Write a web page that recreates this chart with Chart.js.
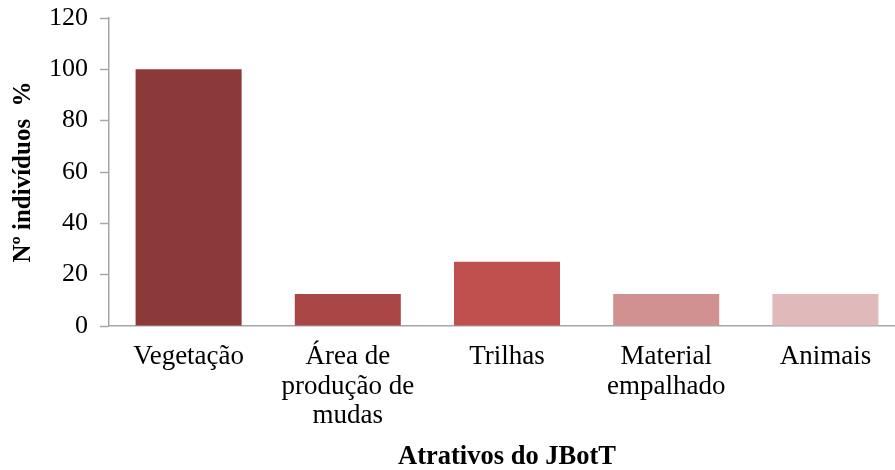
<!DOCTYPE html>
<html>
<head>
<meta charset="utf-8">
<script src="https://cdn.jsdelivr.net/npm/chart.js@4/dist/chart.umd.min.js"></script>
<style>
  html, body { margin: 0; padding: 0; background: #fff; overflow: hidden; }
  #wrap { width: 905px; height: 470px; }
</style>
</head>
<body>
<div id="wrap"><canvas id="chart"></canvas></div>
<script>
// Data
const categories = [
  "Vegetação",
  ["Área de", "produção de", "mudas"],
  "Trilhas",
  ["Material", "empalhado"],
  "Animais"
];
const percentValues = [100, 12.5, 25, 12.5, 12.5];
const barColors = ["#8C3A39", "#A94746", "#C0504D", "#D29191", "#E0BABA"];
const yTicks = [0, 20, 40, 60, 80, 100, 120];

const serif = "'Liberation Serif', 'Times New Roman', serif";

new Chart(document.getElementById("chart"), {
  type: "bar",
  data: {
    labels: categories,
    datasets: [{
      data: percentValues,
      backgroundColor: barColors,
      borderWidth: 0,
      barPercentage: 0.666,
      categoryPercentage: 1
    }]
  },
  options: {
    responsive: true,
    maintainAspectRatio: false,
    animation: false,
    layout: { padding: 0 },
    plugins: { legend: { display: false }, tooltip: { enabled: false } },
    scales: {
      x: {
        grid: { display: false, drawTicks: false },
        border: { color: "#A6A6A6", width: 1.5 },
        ticks: {
          color: "#000",
          font: { family: serif, size: 27, lineHeight: 1.1 },
          padding: 16,
          maxRotation: 0,
          autoSkip: false
        },
        title: {
          display: true,
          text: "Atrativos do JBotT",
          color: "#000",
          font: { family: serif, size: 26.5, weight: "bold", lineHeight: 1 },
          padding: 0
        },
        afterFit: axis => { axis.height = 144; }
      },
      y: {
        min: 0,
        max: 120,
        afterBuildTicks: axis => { axis.ticks = yTicks.map(v => ({ value: v })); },
        grid: {
          drawOnChartArea: false,
          tickLength: 9,
          tickColor: "#A6A6A6",
          tickWidth: 1.5
        },
        border: { color: "#A6A6A6", width: 1.5 },
        ticks: {
          color: "#000",
          font: { family: serif, size: 26 },
          padding: 12
        },
        title: {
          display: true,
          text: "Nº indivíduos  %",
          color: "#000",
          font: { family: serif, size: 25, weight: "bold" },
          padding: { top: 9, bottom: 0 }
        },
        afterFit: axis => {
          axis.width = 109;
          axis.paddingTop = 18;
        }
      }
    }
  }
});
</script>
</body>
</html>
